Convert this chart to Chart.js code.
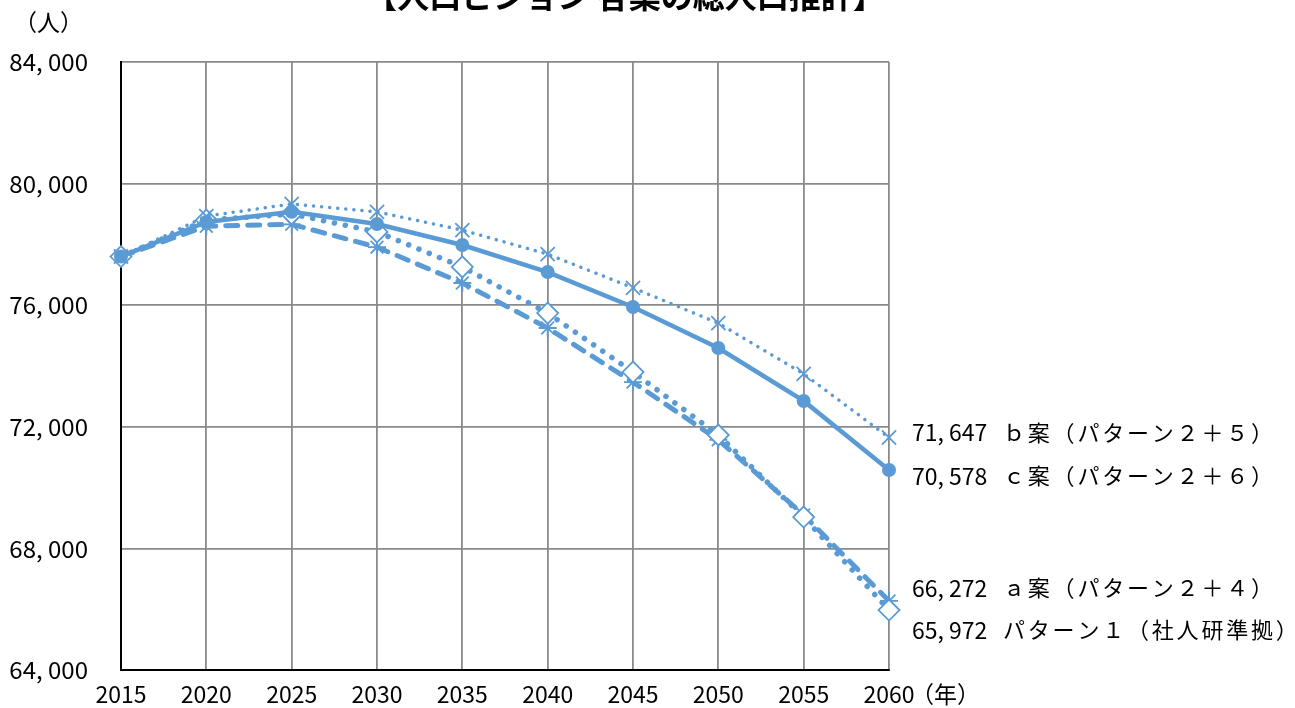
<!DOCTYPE html>
<html>
<head>
<meta charset="utf-8">
<script src="https://cdn.jsdelivr.net/npm/chart.js@4/dist/chart.umd.min.js"></script>
<style>
  html, body { margin: 0; padding: 0; background: #fff; overflow: hidden; }
</style>
</head>
<body>
<canvas id="chart" width="1295" height="708"></canvas>
<script>
const years = ['2015', '2020', '2025', '2030', '2035', '2040', '2045', '2050', '2055', '2060'];

// 総人口推計（人）
const planB = [77600, 78930, 79330, 79070, 78470, 77680, 76570, 75410, 73740, 71647];
const planC = [77600, 78740, 79070, 78670, 77980, 77090, 75940, 74590, 72850, 70578];
const planA = [77600, 78600, 78660, 77910, 76730, 75250, 73470, 71570, 69100, 66272];
const pattern1 = [77600, 78800, 79000, 78410, 77260, 75740, 73800, 71730, 69030, 65972];

const names = ['ｂ案（パターン２＋５）', 'ｃ案（パターン２＋６）', 'ａ案（パターン２＋４）', 'パターン１（社人研準拠）'];
const title = '【人口ビジョン 各案の総人口推計】';

const blue = '#5B9BD5';
const font = '"Noto Sans CJK JP", "Noto Sans", sans-serif';

function fmt(v) {
  return Number(v).toLocaleString('en-US').replace(',', ', ');
}

// end-of-line labels are nudged apart so they don't overlap
const labelNudge = [-5, 6, -13, 20];

const textPlugin = {
  id: 'texts',
  afterDraw(chart) {
    const { ctx, chartArea, scales } = chart;
    ctx.save();
    ctx.fillStyle = '#000';

    ctx.font = `bold 32px ${font}`;
    ctx.textAlign = 'center';
    ctx.textBaseline = 'alphabetic';
    ctx.fillText(title, 625, 8);

    ctx.font = `23px ${font}`;
    ctx.textAlign = 'left';
    ctx.textBaseline = 'middle';
    ctx.fillText('（人）', 14, 22);

    const xLast = scales.x.getPixelForValue(years.length - 1);
    ctx.fillText('（年）', xLast + 22, 694);

    chart.data.datasets.forEach((ds, i) => {
      const v = ds.data[ds.data.length - 1];
      const y = scales.y.getPixelForValue(v) + labelNudge[i];
      ctx.font = `23px ${font}`;
      ctx.letterSpacing = '0px';
      ctx.fillText(fmt(v), chartArea.right + 23, y);
      ctx.font = `22px ${font}`;
      ctx.letterSpacing = '2.8px';
      ctx.fillText(ds.label, 1003, y);
    });
    ctx.restore();
  }
};

new Chart(document.getElementById('chart'), {
  type: 'line',
  data: {
    labels: years,
    datasets: [
      {
        label: names[0], data: planB, order: 1,
        borderColor: blue, borderWidth: 3.5, borderDash: [0.1, 8], borderCapStyle: 'round',
        pointStyle: 'crossRot', pointRadius: 10, pointBorderWidth: 1.8,
        pointBorderColor: blue, pointBackgroundColor: blue,
      },
      {
        label: names[1], data: planC, order: 0,
        borderColor: blue, borderWidth: 4.5,
        pointStyle: 'circle', pointRadius: 7, pointBorderWidth: 0,
        pointBackgroundColor: blue,
      },
      {
        label: names[2], data: planA, order: 3,
        borderColor: blue, borderWidth: 5, borderDash: [12, 10], borderCapStyle: 'round',
        pointStyle: 'star', pointRadius: 9, pointBorderWidth: 1.8,
        pointBorderColor: blue, pointBackgroundColor: blue,
      },
      {
        label: names[3], data: pattern1, order: 2,
        borderColor: blue, borderWidth: 5.5, borderDash: [0.1, 11], borderCapStyle: 'round',
        pointStyle: 'rectRot', pointRadius: 10.5, pointBorderWidth: 1.8,
        pointBorderColor: blue, pointBackgroundColor: '#fff',
      },
    ],
  },
  options: {
    responsive: false,
    animation: false,
    layout: { padding: { top: 62, right: 406, left: 0, bottom: 0 } },
    elements: { line: { tension: 0, fill: false } },
    plugins: {
      legend: { display: false },
      tooltip: { enabled: false },
    },
    scales: {
      x: {
        offset: false,
        grid: { color: '#8a8a8a', lineWidth: 1.8, drawTicks: false, offset: false },
        border: { color: '#000', width: 2 },
        ticks: { font: { family: font, size: 23 }, color: '#000', padding: 10, maxRotation: 0, autoSkip: false },
        afterFit(scale) {
          scale.height = 38;
          scale.paddingLeft = 0;
          scale.paddingRight = 0;
        },
      },
      y: {
        min: 64000, max: 84000,
        grid: { color: '#8a8a8a', lineWidth: 1.8, drawTicks: false },
        border: { color: '#000', width: 2 },
        ticks: {
          stepSize: 4000, font: { family: font, size: 24 }, color: '#000', padding: 33,
          callback: (v) => fmt(v),
        },
        afterFit(scale) {
          scale.width = 121;
          scale.paddingTop = 0;
          scale.paddingBottom = 0;
        },
      },
    },
  },
  plugins: [textPlugin],
});
</script>
</body>
</html>
